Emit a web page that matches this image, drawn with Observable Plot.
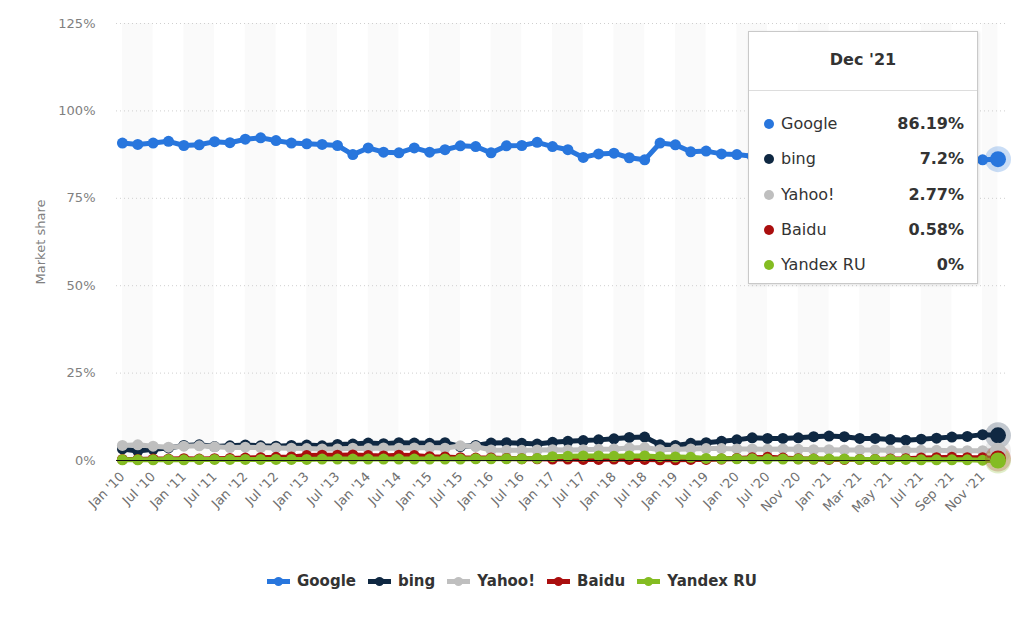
<!DOCTYPE html>
<html><head><meta charset="utf-8">
<script src="https://cdn.jsdelivr.net/npm/d3@7"></script>
<script src="https://cdn.jsdelivr.net/npm/@observablehq/plot@0.6"></script>
<style>
body{margin:0;background:#fff;font-family:"DejaVu Sans",sans-serif;}
#wrap{position:relative;width:1024px;height:618px;overflow:hidden;}
#tip{position:absolute;left:748px;top:31px;width:228px;height:251px;background:#fff;border:1px solid #c9c9c9;box-shadow:1px 1px 3px rgba(0,0,0,0.12);color:#333;}
#tip .hd{position:absolute;left:0;right:0;top:18px;text-align:center;font-weight:bold;font-size:16px;}
#tip .sep{position:absolute;left:0;right:0;top:58px;border-top:1px solid #ddd;}
#tip .row{position:absolute;left:0;right:0;height:20px;font-size:16px;line-height:20px;}
#tip .dot{position:absolute;left:15px;top:5px;width:10px;height:10px;border-radius:50%;}
#tip .nm{position:absolute;left:32px;}
#tip .vl{position:absolute;right:13px;font-weight:bold;}
#legend{position:absolute;left:0;width:1024px;top:572px;display:flex;justify-content:center;align-items:center;font-size:15px;font-weight:bold;color:#333;}
#legend .it{display:flex;align-items:center;margin:0 6px;}
#legend .sym{position:relative;width:23px;height:10px;margin-right:7px;}
#legend .sym .ln{position:absolute;left:0;top:2.5px;width:23px;height:5px;}
#legend .sym .ci{position:absolute;left:7px;top:0.5px;width:9px;height:9px;border-radius:50%;}
</style></head><body><div id="wrap"></div>
<script>
const periods = ["Jan '10","Apr '10","Jul '10","Oct '10","Jan '11","Apr '11","Jul '11","Oct '11","Jan '12","Apr '12","Jul '12","Oct '12","Jan '13","Apr '13","Jul '13","Oct '13","Jan '14","Apr '14","Jul '14","Oct '14","Jan '15","Apr '15","Jul '15","Oct '15","Jan '16","Apr '16","Jul '16","Oct '16","Jan '17","Apr '17","Jul '17","Oct '17","Jan '18","Apr '18","Jul '18","Oct '18","Jan '19","Apr '19","Jul '19","Oct '19","Jan '20","Apr '20","Jul '20","Oct '20","Nov '20","Dec '20","Jan '21","Feb '21","Mar '21","Apr '21","May '21","Jun '21","Jul '21","Aug '21","Sep '21","Oct '21","Nov '21","Dec '21"];
const tickLabels = ["Jan '10","Jul '10","Jan '11","Jul '11","Jan '12","Jul '12","Jan '13","Jul '13","Jan '14","Jul '14","Jan '15","Jul '15","Jan '16","Jul '16","Jan '17","Jul '17","Jan '18","Jul '18","Jan '19","Jul '19","Jan '20","Jul '20","Nov '20","Jan '21","Mar '21","May '21","Jul '21","Sep '21","Nov '21"];
const seriesNames = ["Google","bing","Yahoo!","Baidu","Yandex RU"];
const seriesColors = ["#2876dd","#0f2842","#bfbfbf","#aa0e0e","#84bc22"];
const yTicks = [0,25,50,75,100,125];

const google = [90.8,90.4,90.8,91.3,90.1,90.3,91.2,90.9,91.9,92.3,91.5,90.8,90.6,90.4,90.1,87.5,89.4,88.2,88.0,89.4,88.2,88.9,90.0,89.8,88.0,90.0,90.1,91.0,89.8,88.9,86.7,87.7,87.9,86.6,86.0,90.8,90.3,88.3,88.5,87.7,87.5,87.0,86.6,86.4,86.9,86.5,86.7,86.2,86.4,86.0,86.3,85.9,86.1,85.8,86.0,85.7,86.0,86.19];
const bing = [3.3,2.7,3.2,3.6,4.3,4.5,4.0,4.2,4.4,4.2,4.1,4.3,4.4,4.2,4.6,4.7,5.0,4.8,5.1,5.0,4.9,5.1,4.0,4.3,5.0,5.1,4.9,4.7,5.2,5.5,5.7,5.9,6.2,6.6,6.7,4.5,4.3,4.9,5.1,5.5,5.9,6.5,6.3,6.3,6.5,6.8,7.0,6.8,6.3,6.3,6.0,5.8,6.1,6.4,6.7,6.9,7.4,7.2];
const yahoo = [4.3,4.5,4.1,3.8,4.1,4.2,3.9,3.7,3.8,3.7,3.6,3.5,3.4,3.3,3.3,3.5,3.4,3.6,3.5,3.6,3.7,3.5,4.2,4.0,3.0,2.9,2.9,3.0,3.1,3.0,3.1,3.2,3.3,3.6,3.7,3.1,3.2,3.3,3.4,3.4,3.3,3.3,3.2,3.3,3.2,3.1,3.1,3.0,3.0,3.0,2.9,2.9,2.9,2.9,2.8,2.8,2.8,2.77];
const baidu = [0.3,0.3,0.4,0.4,0.5,0.4,0.5,0.6,0.7,0.8,0.9,1.0,1.4,1.5,1.5,1.6,1.4,1.3,1.5,1.4,1.1,1.0,0.8,0.7,0.7,0.6,0.5,0.5,0.4,0.4,0.3,0.3,0.4,0.3,0.3,0.2,0.2,0.3,0.3,0.4,0.6,0.8,0.9,0.7,0.5,0.4,0.3,0.3,0.3,0.3,0.4,0.5,0.7,0.8,0.9,0.8,0.8,0.58];
const yandex = [0.2,0.2,0.2,0.3,0.2,0.3,0.3,0.3,0.3,0.3,0.3,0.3,0.3,0.4,0.4,0.4,0.4,0.4,0.4,0.4,0.4,0.4,0.4,0.5,0.5,0.5,0.5,0.6,1.1,1.2,1.3,1.3,1.2,1.3,1.3,1.1,1.0,0.9,0.6,0.5,0.5,0.5,0.4,0.4,0.4,0.4,0.4,0.4,0.3,0.3,0.3,0.3,0.2,0.2,0.2,0.2,0.1,0];

const seriesValues = [google,bing,yahoo,baidu,yandex];
const data = seriesNames.flatMap((s,k)=>seriesValues[k].map((v,i)=>({series:s, period:periods[i], value:v})));
const lastPeriod = periods[periods.length-1];
const last = data.filter(d=>d.period===lastPeriod);
const bands = periods.map((p,i)=>i).filter(i=>i%4===0).map(i=>({x1:periods[i], x2:periods[Math.min(i+2,periods.length-1)]}));

const seriesMarks = seriesNames.flatMap(s=>{
  const d = data.filter(r=>r.series===s);
  return [
    Plot.line(d,{x:"period",y:"value",stroke:"series",strokeWidth:5,curve:"linear"}),
    Plot.dot(d,{x:"period",y:"value",fill:"series",r:5.5})
  ];
});

const chart = Plot.plot({
  width:1024, height:545,
  marginLeft:116, marginRight:18, marginTop:23, marginBottom:85,
  style:{fontFamily:"DejaVu Sans, sans-serif", fontSize:"12px", background:"#fff"},
  x:{type:"point", domain:periods, padding:0.47, align:0.41, round:false, label:null},
  y:{domain:[0,125], label:null},
  color:{domain:seriesNames, range:seriesColors},
  marks:[
    Plot.rect(bands,{x1:"x1",x2:"x2",fill:"#fafafa"}),
    Plot.ruleY(yTicks.filter(d=>d>0),{stroke:"#cfcfcf",strokeDasharray:"1,3"}),
    Plot.axisY({ticks:yTicks, tickSize:0, tickPadding:21, tickFormat:d=>d+"%", label:null, fontSize:13, color:"#808080"}),
    Plot.axisX({ticks:tickLabels, tickSize:0, tickRotate:-45, tickPadding:14, label:null, fontSize:13, color:"#707070"}),
    Plot.text(["Market share"],{text:d=>d, frameAnchor:"left", textAnchor:"middle", dx:-76, rotate:-90, fill:"#808080", fontSize:13}),
    ...seriesMarks,
    Plot.ruleY([0],{stroke:"#111",strokeWidth:1}),
    Plot.dot(last,{x:"period",y:"value",fill:"series",r:13,fillOpacity:0.25}),
    Plot.dot(last,{x:"period",y:"value",fill:"series",r:8})
  ]
});
const wrap = document.getElementById("wrap");
wrap.appendChild(chart);

// tooltip
const tip = document.createElement("div");
tip.id = "tip";
let html = `<div class="hd">${lastPeriod}</div><div class="sep"></div>`;
last.forEach((d,k)=>{
  const top = 82 + k*35.3;
  html += `<div class="row" style="top:${top}px"><span class="dot" style="background:${seriesColors[k]}"></span><span class="nm">${d.series}</span><span class="vl">${d.value}%</span></div>`;
});
tip.innerHTML = html;
wrap.appendChild(tip);

// legend
const legend = document.createElement("div");
legend.id = "legend";
legend.innerHTML = seriesNames.map((s,k)=>`<div class="it"><span class="sym"><span class="ln" style="background:${seriesColors[k]}"></span><span class="ci" style="background:${seriesColors[k]}"></span></span>${s}</div>`).join("");
wrap.appendChild(legend);
</script></body></html>
